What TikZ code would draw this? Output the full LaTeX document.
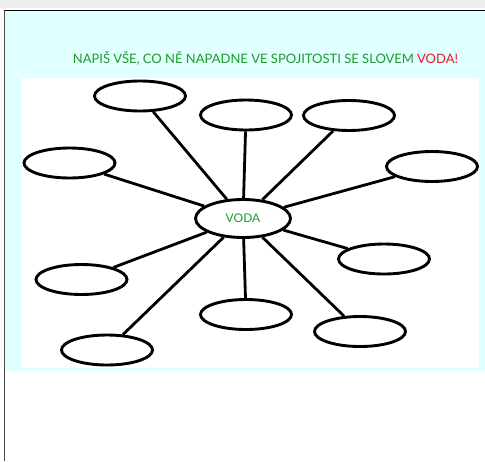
\documentclass[tikz,border=0pt]{standalone}
\usepackage{fontspec}
\setmainfont{Lato}
\usetikzlibrary{shapes.geometric}
\definecolor{bgcyan}{RGB}{224,255,255}
\definecolor{tgreen}{RGB}{30,155,45}
\definecolor{tred}{RGB}{225,30,40}
\definecolor{topgray}{RGB}{238,238,238}
\begin{document}
\begin{tikzpicture}[x=1pt,y=-1pt,
  bubble/.style={ellipse,draw=black,line width=2.9pt,fill=white,minimum width=91pt,minimum height=30pt,inner sep=0pt},
  hub/.style={ellipse,draw=black,line width=2.9pt,fill=white,minimum width=95pt,minimum height=38pt,inner sep=0pt,text=tgreen,font=\fontsize{12}{14}\selectfont},
  spoke/.style={line width=2.8pt,draw=black}]
\useasboundingbox (0,0) rectangle (485,461);
\fill[white] (0,0) rectangle (485,461);
\fill[topgray] (0,0) rectangle (485,8);
\fill[bgcyan] (5,10.5) rectangle (485,371);
\fill[white] (22,78) rectangle (479,368);
\draw[black,line width=1pt] (4,10.5) -- (485,10.5);
\draw[black!70,line width=1pt] (4.5,10) -- (4.5,461);
\node[anchor=base,font=\fontsize{13}{16}\selectfont,text=tgreen] (title) at (265.5,63.5) {NAPIŠ VŠE, CO NĚ NAPADNE VE SPOJITOSTI SE SLOVEM \textcolor{tred}{VODA!}};
\node[hub] (c) at (243,218.5) {VODA};
\node[bubble] (tl) at (140,96) {};
\node[bubble] (tm) at (246,115) {};
\node[bubble] (tr) at (349,115.5) {};
\node[bubble] (r) at (432,166.5) {};
\node[bubble] (rm) at (384,259) {};
\node[bubble] (br) at (360,331.5) {};
\node[bubble] (bm) at (246,314.5) {};
\node[bubble] (bl) at (107,350) {};
\node[bubble] (ll) at (81.5,279.5) {};
\node[bubble] (lt) at (69.5,163) {};
\foreach \n in {tl,tm,tr,r,rm,br,bm,bl,ll,lt} \draw[spoke] (c) -- (\n);
\end{tikzpicture}
\end{document}
